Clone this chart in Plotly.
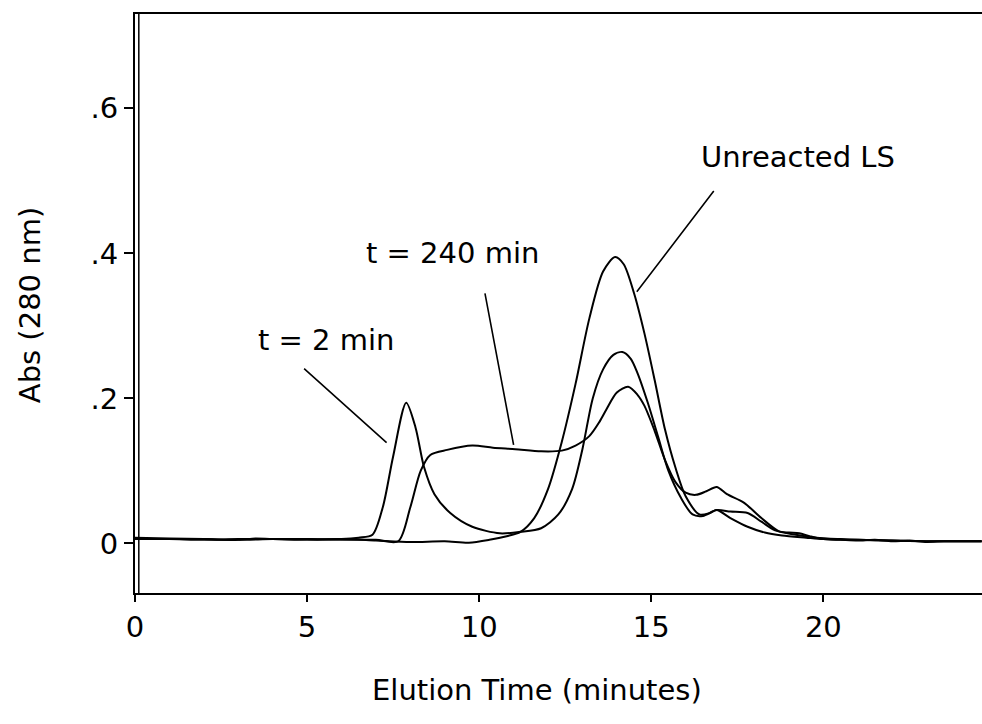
import plotly.graph_objects as go

# ---- data ----
x_unreacted = [0, 1, 2, 3, 4, 5, 6, 7, 8, 9, 9.7, 10.3, 10.8, 11.2, 11.6, 12.0, 12.4, 12.8,
               13.2, 13.6, 13.95, 14.2, 14.5, 14.8, 15.1, 15.4, 15.7, 16.0, 16.4, 16.7, 16.9, 17.3,
               17.8, 18.3, 18.8, 19.5, 20, 20.5, 21, 21.5, 22, 22.5, 23, 23.5, 24, 24.6]
y_unreacted = [0.006, 0.006, 0.005, 0.006, 0.006, 0.005, 0.006, 0.004, 0.002, 0.003, 0.001, 0.005,
               0.010, 0.016, 0.035, 0.075, 0.140, 0.220, 0.310, 0.375, 0.395, 0.385, 0.345,
               0.290, 0.225, 0.157, 0.105, 0.065, 0.040, 0.042, 0.046, 0.035, 0.023, 0.015, 0.011,
               0.008, 0.006, 0.005, 0.004, 0.005, 0.003, 0.004, 0.002, 0.003, 0.003, 0.003]

x_t2 = [0, 1, 2, 3, 3.5, 4, 5, 6, 6.5, 6.9, 7.2, 7.5, 7.88, 8.15, 8.4, 8.7, 9.16, 9.8, 10.6,
        11.2, 11.8, 12.3, 12.7, 13.0, 13.3, 13.6, 13.9, 14.16, 14.4, 14.6, 14.9, 15.2, 15.5,
        15.85, 16.2, 16.5, 16.9, 17.3, 17.8, 18.2, 18.6, 19.2, 19.8, 20.5, 21, 22, 23, 24, 24.6]
y_t2 = [0.008, 0.007, 0.006, 0.005, 0.007, 0.006, 0.006, 0.006, 0.008, 0.012, 0.050, 0.120,
        0.194, 0.160, 0.105, 0.068, 0.042, 0.023, 0.014, 0.016, 0.021, 0.040, 0.075, 0.130,
        0.200, 0.240, 0.260, 0.264, 0.255, 0.235, 0.194, 0.147, 0.100, 0.064, 0.040, 0.038,
        0.046, 0.044, 0.042, 0.030, 0.018, 0.012, 0.008, 0.006, 0.005, 0.004, 0.003, 0.003, 0.003]

x_t240 = [0, 1, 2, 3, 4, 5, 6, 7, 7.65, 8.0, 8.3, 8.58, 9.07, 9.8, 10.4, 11.05, 11.8, 12.4, 12.8,
          13.2, 13.5, 13.7, 14.0, 14.33, 14.6, 14.8, 15.1, 15.4, 15.7, 16.0, 16.3, 16.6, 16.9,
          17.2, 17.7, 18.2, 18.7, 19.0, 19.3, 19.6, 20, 21, 22, 23, 24, 24.6]
y_t240 = [0.007, 0.006, 0.006, 0.005, 0.006, 0.006, 0.005, 0.005, 0.003, 0.050, 0.100, 0.122,
          0.129, 0.135, 0.132, 0.130, 0.127, 0.128, 0.135, 0.148, 0.168, 0.185, 0.208, 0.216,
          0.205, 0.190, 0.155, 0.115, 0.085, 0.070, 0.067, 0.072, 0.078, 0.068, 0.056, 0.035,
          0.017, 0.015, 0.014, 0.010, 0.006, 0.005, 0.004, 0.003, 0.003, 0.003]

y_tick_vals = [0, 0.2, 0.4, 0.6]
y_tick_text = ["0", ".2", ".4", ".6"]
x_tick_vals = [0, 5, 10, 15, 20]

FONT = "DejaVu Sans"

fig = go.Figure()
for xs, ys, name in [(x_unreacted, y_unreacted, "Unreacted LS"),
                     (x_t2, y_t2, "t = 2 min"),
                     (x_t240, y_t240, "t = 240 min")]:
    fig.add_trace(go.Scatter(x=xs, y=ys, mode="lines", name=name,
                             line=dict(color="black", width=2, shape="spline", smoothing=0.8),
                             showlegend=False))

# labels with pointer lines
labels = [
    dict(text="Unreacted LS", tx=19.26, ty=0.533, ax=16.85, ay=0.488, hx=14.58, hy=0.347),
    dict(text="t = 240 min", tx=9.23, ty=0.400, ax=10.16, ay=0.347, hx=11.0, hy=0.136),
    dict(text="t = 2 min", tx=5.54, ty=0.281, ax=4.87, ay=0.243, hx=7.31, hy=0.139),
]
for lb in labels:
    fig.add_annotation(x=lb["tx"], y=lb["ty"], text=lb["text"], showarrow=False,
                       xanchor="center", yanchor="middle",
                       font=dict(family=FONT, size=29, color="black"))
    fig.add_annotation(x=lb["hx"], y=lb["hy"], ax=lb["ax"], ay=lb["ay"],
                       axref="x", ayref="y", text="", showarrow=True,
                       arrowhead=0, arrowwidth=1.6, arrowcolor="black", standoff=0, startstandoff=0)

# axis titles as annotations
fig.add_annotation(xref="paper", yref="paper", x=0.4746, y=-0.1675, text="Elution Time (minutes)",
                   xanchor="center", yanchor="middle",
                   showarrow=False, font=dict(family=FONT, size=29, color="black"))
fig.add_annotation(xref="paper", yref="paper", x=-0.124, y=0.497, text="Abs (280 nm)",
                   xanchor="center", yanchor="middle",
                   textangle=-90, showarrow=False, font=dict(family=FONT, size=29, color="black"))

# double left frame line
fig.add_shape(type="line", xref="paper", yref="paper", x0=0.0045, x1=0.0045, y0=0, y1=1,
              line=dict(color="black", width=1.5))

fig.update_xaxes(range=[0, 24.61], tickvals=x_tick_vals, ticks="outside", ticklen=7,
                 tickwidth=1.5, tickcolor="black", showline=True, linecolor="black",
                 linewidth=2, mirror=True, showgrid=False, zeroline=False,
                 tickfont=dict(family=FONT, size=29, color="black"))
fig.update_yaxes(range=[-0.0683, 0.730], tickvals=y_tick_vals, ticktext=y_tick_text,
                 ticks="outside", ticklen=9, tickwidth=1.5, tickcolor="black",
                 showline=True, linecolor="black", linewidth=2, mirror=False,
                 showgrid=False, zeroline=False,
                 tickfont=dict(family=FONT, size=29, color="black"))

fig.update_layout(width=982, height=724, margin=dict(l=135, r=0, t=14, b=131),
                  paper_bgcolor="white", plot_bgcolor="white")

fig.write_html("out.html")
